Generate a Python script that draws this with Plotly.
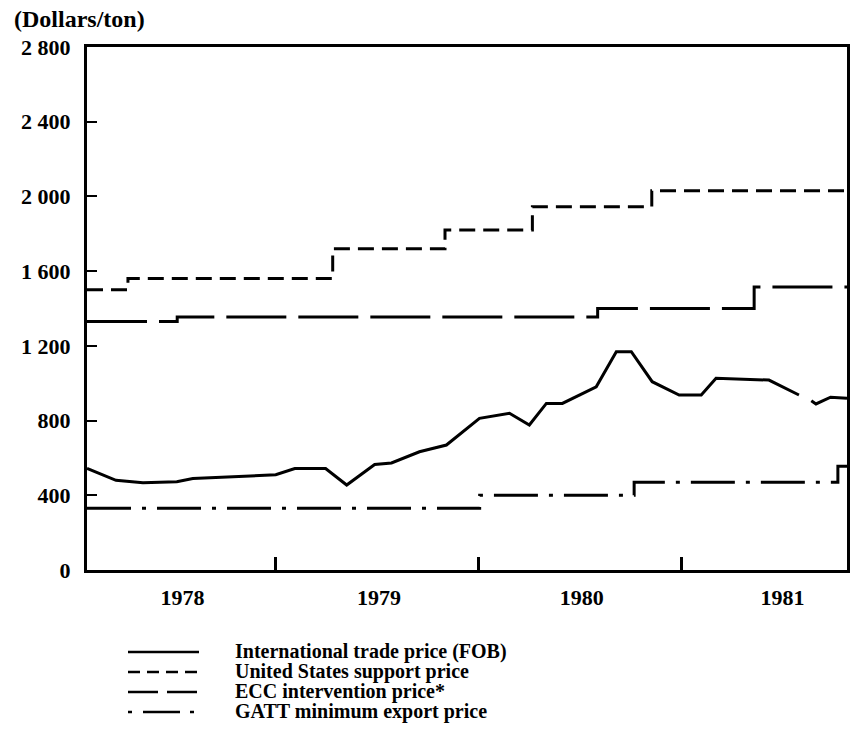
import plotly.graph_objects as go

# ---- data (decimal years, dollars/ton) ----
fob_dates = [1978.069, 1978.212, 1978.345, 1978.512, 1978.591, 1979.0, 1979.094, 1979.246,
             1979.350, 1979.488, 1979.571, 1979.709, 1979.842, 1980.005, 1980.153, 1980.251,
             1980.335, 1980.414, 1980.581, 1980.680, 1980.754, 1980.857, 1980.990, 1981.099,
             1981.172, 1981.433, 1981.581, 1981.610, 1981.642, 1981.665, 1981.737, 1981.818]
fob_values = [544, 480, 467, 473, 490, 510, 543, 543,
              455, 565, 573, 633, 669, 812, 839, 776,
              892, 892, 981, 1169, 1169, 1008, 937, 937,
              1026, 1017, 937, None, 906, 889, 925, 919]

us_dates = [1978.069, 1978.271, 1979.281, 1979.835, 1980.266, 1980.855, 1981.818]
us_values = [1500, 1560, 1720, 1820, 1945, 2030, 2030]

ecc_dates = [1978.069, 1978.514, 1980.588, 1981.360, 1981.818]
ecc_values = [1330, 1355, 1400, 1515, 1515]

gatt_dates = [1978.069, 1980.006, 1980.768, 1981.773, 1981.818]
gatt_values = [330, 400, 470, 555, 555]

y_tickvals = [0, 400, 800, 1200, 1600, 2000, 2400, 2800]
y_ticktext = ["0", "400", "800", "1 200", "1 600", "2 000", "2 400", "2 800"]
year_labels = ["1978", "1979", "1980", "1981"]
year_label_pos = [1978.54, 1979.51, 1980.51, 1981.50]
year_bounds = [1979, 1980, 1981]

legend_names = ["International trade price (FOB)", "United States support price",
                "ECC intervention price*", "GATT minimum export price"]
legend_dashes = ["solid", "12px,7px", "30px,9px", "4px,11px,37px,10px"]

FONT = "Times New Roman"

fig = go.Figure()
fig.add_trace(go.Scatter(x=fob_dates, y=fob_values, mode="lines", name=legend_names[0],
                         line=dict(color="black", width=3), connectgaps=False))
fig.add_trace(go.Scatter(x=us_dates, y=us_values, mode="lines", name=legend_names[1],
                         line=dict(color="black", width=3, dash="16px,8px", shape="hv")))
fig.add_trace(go.Scatter(x=ecc_dates, y=ecc_values, mode="lines", name=legend_names[2],
                         line=dict(color="black", width=3, dash="60px,12px", shape="hv")))
fig.add_trace(go.Scatter(x=gatt_dates, y=gatt_values, mode="lines", name=legend_names[3],
                         line=dict(color="black", width=3, dash="44px,11px,4px,11px", shape="hv")))

FW, FH = 850, 756
L, R, T, B = 87, 847, 47, 570
W, H = R - L, B - T

def px_x(p):
    return (p - L) / W

def px_y(p):
    return (B - p) / H

rows_y = [651, 671, 691, 711]
for name, dash, ry in zip(legend_names, legend_dashes, rows_y):
    fig.add_shape(type="line", xref="paper", yref="paper",
                  x0=px_x(128), x1=px_x(199), y0=px_y(ry + 1), y1=px_y(ry + 1),
                  line=dict(color="black", width=2.5, dash=dash))
    fig.add_annotation(text="<b>" + name + "</b>", xref="paper", yref="paper", x=px_x(233), y=px_y(ry),
                       xanchor="left", yanchor="middle", showarrow=False,
                       font=dict(family=FONT, size=20, color="black"))

fig.add_annotation(text="<b>(Dollars/ton)</b>", xref="paper", yref="paper", x=px_x(12), y=px_y(19),
                   xanchor="left", yanchor="middle", showarrow=False,
                   font=dict(family=FONT, size=24, color="black"))

fig.update_layout(
    width=FW, height=FH,
    margin=dict(l=L, r=FW - R, t=T, b=FH - B, autoexpand=False),
    paper_bgcolor="white", plot_bgcolor="white",
    showlegend=False,
    font=dict(family=FONT, color="black"),
    xaxis=dict(range=[1978.069, 1981.818], showgrid=False, zeroline=False, automargin=False,
               showline=True, linecolor="black", linewidth=2.5, mirror=True,
               tickmode="array", tickvals=year_label_pos, ticktext=year_labels,
               ticks="", ticklabelstandoff=6,
               tickfont=dict(family=FONT, size=22, color="black", weight="bold"),
               minor=dict(tickmode="array", tickvals=year_bounds, ticks="inside",
                          ticklen=13, tickwidth=3, tickcolor="black", showgrid=False)),
    yaxis=dict(range=[0, 2800], showgrid=False, zeroline=False, automargin=False,
               showline=True, linecolor="black", linewidth=3, mirror=True,
               tickmode="array", tickvals=y_tickvals, ticktext=y_ticktext,
               ticks="inside", ticklen=10, tickwidth=2, tickcolor="black",
               ticklabelstandoff=9,
               tickfont=dict(family=FONT, size=22, color="black", weight="bold")),
)

fig.write_html("out.html", config={"displayModeBar": False},
               post_script="document.body.style.margin='0';document.body.style.overflow='hidden';")
